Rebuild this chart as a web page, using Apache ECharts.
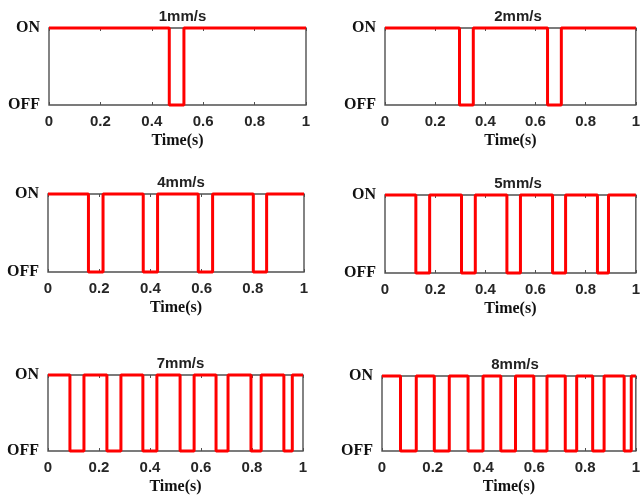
<!DOCTYPE html>
<html><head><meta charset="utf-8">
<script src="https://cdn.jsdelivr.net/npm/echarts@6/dist/echarts.min.js"></script>
<style>html,body{margin:0;padding:0;background:#fff}#c{width:643px;height:496px}</style>
</head><body><div id="c"></div>
<script>
const titles = ['1mm/s','2mm/s','4mm/s','5mm/s','7mm/s','8mm/s'];
const xTicks = [0,0.2,0.4,0.6,0.8,1];
const yTickLabels = ['OFF','ON'];
// OFF intervals [start, end] in seconds for each speed
const off1 = [[0.468,0.525]];
const off2 = [[0.297,0.352],[0.648,0.703]];
const off4 = [[0.158,0.215],[0.372,0.428],[0.587,0.643],[0.802,0.854]];
const off5 = [[0.123,0.178],[0.305,0.360],[0.486,0.540],[0.668,0.720],[0.847,0.891]];
const off7 = [[0.086,0.141],[0.231,0.286],[0.372,0.427],[0.518,0.573],[0.659,0.706],[0.796,0.836],[0.925,0.958]];
const off8 = [[0.073,0.135],[0.206,0.265],[0.339,0.398],[0.468,0.526],[0.598,0.650],[0.722,0.767],[0.830,0.875],[0.954,0.982]];
const offs = [off1,off2,off4,off5,off7,off8];

function toSignal(intervals){
  const pts=[[0,1]];
  intervals.forEach(([a,b])=>{pts.push([a,1],[a,0],[b,0],[b,1]);});
  pts.push([1,1]);
  return pts;
}

const grids = [
  {left:49,top:28,width:257,height:77},
  {left:385,top:28,width:256,height:77},
  {left:48,top:194,width:256,height:78},
  {left:385,top:195,width:256,height:78},
  {left:48,top:375,width:255,height:78},
  {left:382,top:376,width:256,height:79}
];

const option = {
  animation:false,
  backgroundColor:'#fff',
  title: grids.map((g,i)=>({
    text:titles[i], left:g.left+g.width/2, top:g.top-24, textAlign:'center',
    textStyle:{fontFamily:'Liberation Sans',fontWeight:'bold',fontSize:15,color:'#222'}
  })),
  grid: grids.map(g=>Object.assign({show:true,borderColor:'#505050',borderWidth:1.4,backgroundColor:'transparent'},g)),
  xAxis: [].concat(
    grids.map((g,i)=>({
      type:'value',gridIndex:i,min:0,max:1,interval:0.2,
      name:'Time(s)',nameLocation:'middle',nameGap:28,
      nameTextStyle:{fontFamily:'Liberation Serif',fontWeight:'bold',fontSize:16,color:'#111'},
      axisLine:{show:false},
      axisTick:{show:true,inside:true,length:3,lineStyle:{color:'#505050'}},
      axisLabel:{fontFamily:'Liberation Sans',fontWeight:'bold',fontSize:15,color:'#262626',margin:9,
        formatter:v=>String(+v.toFixed(1))},
      splitLine:{show:false}
    })),
    grids.map((g,i)=>({
      type:'value',gridIndex:i,min:0,max:1,interval:0.2,position:'top',
      axisLine:{show:false},
      axisTick:{show:true,inside:true,length:3,lineStyle:{color:'#505050'}},
      axisLabel:{show:false},splitLine:{show:false}
    }))
  ),
  yAxis: grids.map((g,i)=>({
    type:'value',gridIndex:i,min:0,max:1,interval:1,
    axisLine:{show:false},axisTick:{show:false},splitLine:{show:false},
    axisLabel:{fontFamily:'Liberation Serif',fontWeight:'bold',fontSize:16,color:'#111',margin:9,
      formatter:v=>yTickLabels[Math.round(v)]}
  })),
  series: offs.map((o,i)=>({
    type:'line',xAxisIndex:i,yAxisIndex:i,data:toSignal(o),
    showSymbol:false,clip:false,
    lineStyle:{color:'#ff0000',width:3},
    z:5
  }))
};
echarts.init(document.getElementById('c')).setOption(option);
</script></body></html>
